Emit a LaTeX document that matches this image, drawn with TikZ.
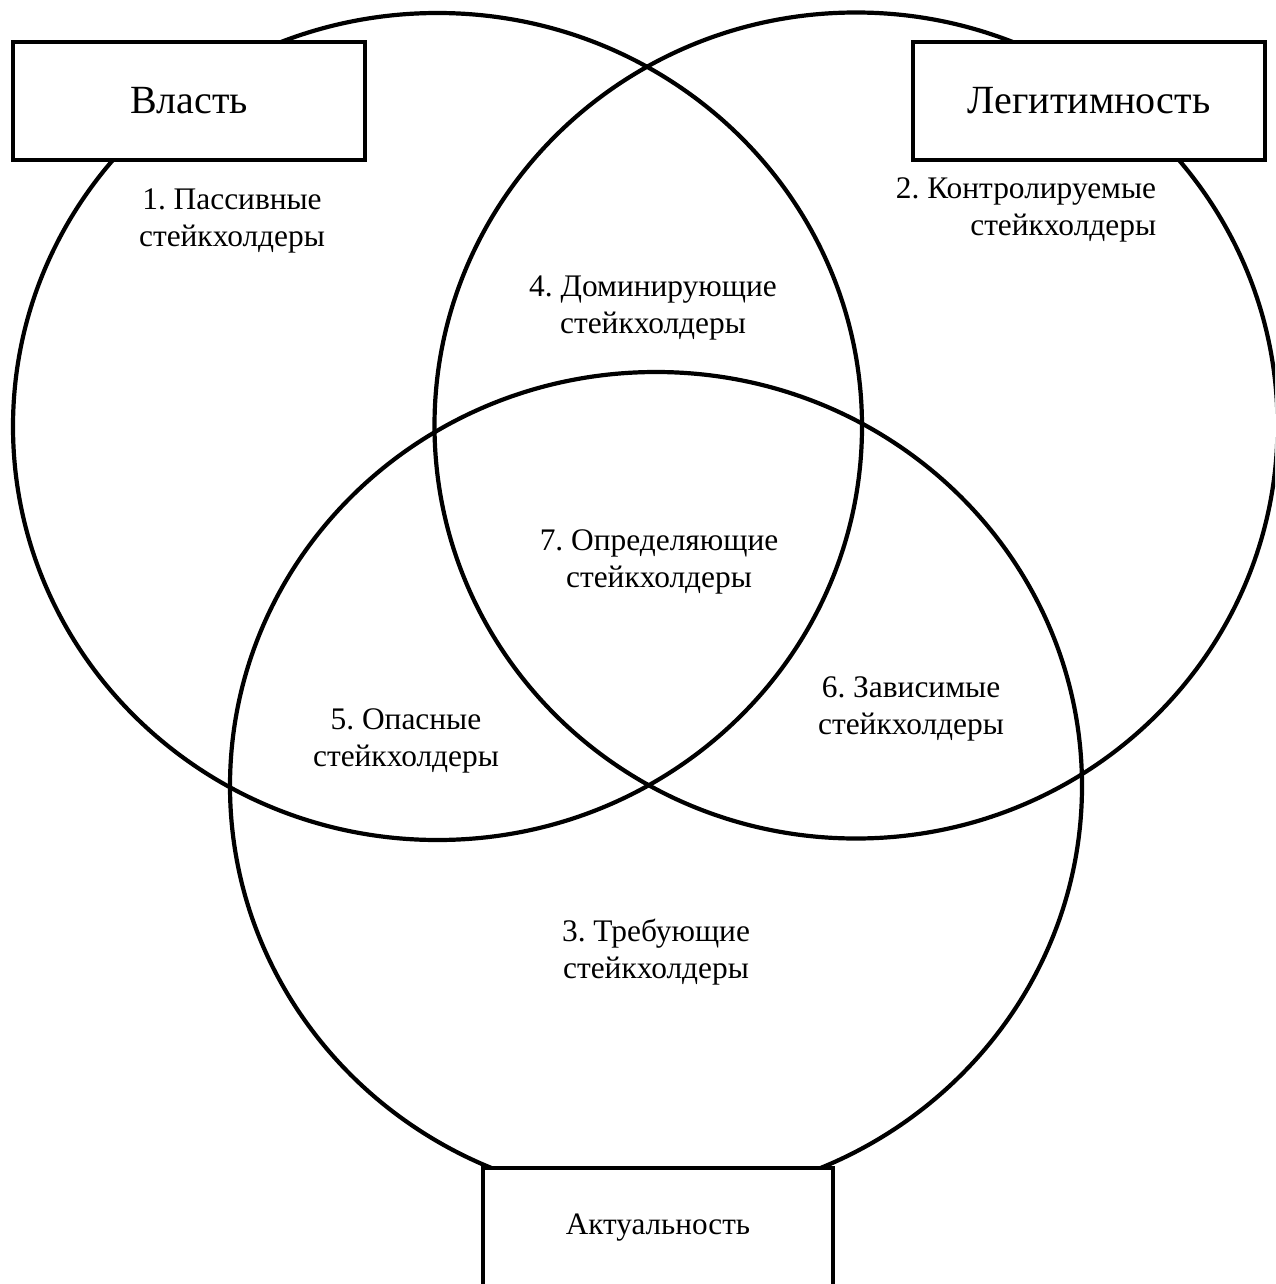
\documentclass[tikz,border=0pt]{standalone}
\usepackage{fontspec}
\setmainfont{Liberation Serif}
\frenchspacing
\begin{document}
\begin{tikzpicture}[x=1pt,y=-1pt,
  ring/.style={line width=4.2pt},
  titlebox/.style={draw,line width=4.2pt,fill=white,inner sep=0pt,
    minimum width=352pt,minimum height=118pt,font=\fontsize{40}{46}\selectfont},
  bottombox/.style={draw,line width=4.2pt,fill=white,inner sep=0pt,
    minimum width=350pt,minimum height=120pt,font=\fontsize{31.2}{36}\selectfont},
  lbl/.style={align=center,inner sep=0pt,font=\fontsize{31.4}{37}\selectfont}]
\clip (0,0) rectangle (1275,1284);
\fill[white] (0,0) rectangle (1275,1284);
% circles
\draw[ring] (437.5,426.5) ellipse [x radius=424.5pt, y radius=413.5pt];
\draw[ring] (856,425.5) ellipse [x radius=421.5pt, y radius=413pt];
\draw[ring] (656,786) ellipse [x radius=426pt, y radius=414pt];
% boxes
\node[titlebox] (power) at (189,101) {Власть};
\node[titlebox] (legit) at (1089,101) {Легитимность};
\node[bottombox] (urg) at (658,1228) {Актуальность};
% region labels
\node[lbl] (l1) at (232,221) {1. Пассивные\\стейкхолдеры};
\node[lbl,align=right] (l2) at (1026,210) {2. Контролируемые\\стейкхолдеры};
\node[lbl] (l4) at (653,308) {4. Доминирующие\\стейкхолдеры};
\node[lbl] (l7) at (659,562) {7. Определяющие\\стейкхолдеры};
\node[lbl] (l6) at (911,709) {6. Зависимые\\стейкхолдеры};
\node[lbl] (l5) at (406,741) {5. Опасные\\стейкхолдеры};
\node[lbl] (l3) at (656,952) {3. Требующие\\стейкхолдеры};
\end{tikzpicture}
\end{document}
